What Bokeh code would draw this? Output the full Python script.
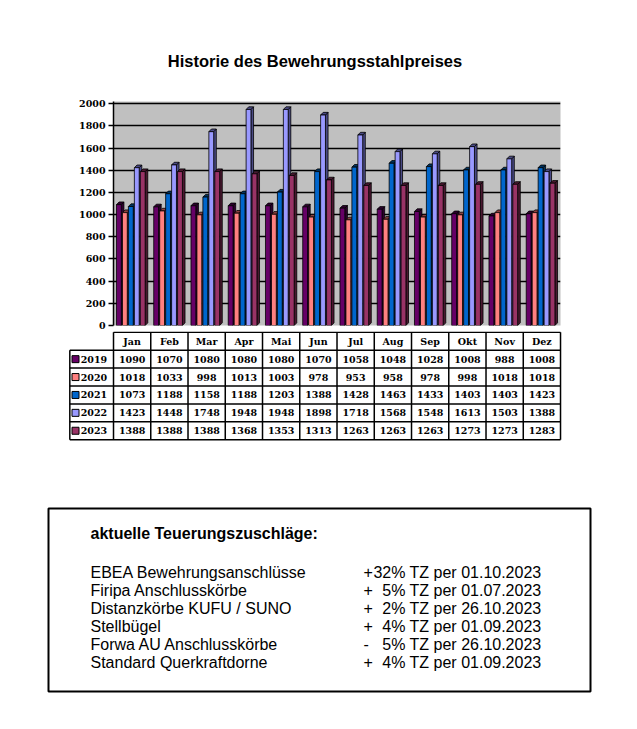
import numpy as np
from bokeh.plotting import figure
from bokeh.models import Range1d, FixedTicker
from bokeh.core.properties import value
from bokeh.embed import file_html
from bokeh.resources import INLINE

# ---------------- data ----------------
title_text = "Historie des Bewehrungsstahlpreises"
months = ["Jan", "Feb", "Mar", "Apr", "Mai", "Jun", "Jul", "Aug", "Sep", "Okt", "Nov", "Dez"]
years = ["2019", "2020", "2021", "2022", "2023"]
v2019 = [1090, 1070, 1080, 1080, 1080, 1070, 1058, 1048, 1028, 1008, 988, 1008]
v2020 = [1018, 1033, 998, 1013, 1003, 978, 953, 958, 978, 998, 1018, 1018]
v2021 = [1073, 1188, 1158, 1188, 1203, 1388, 1428, 1463, 1433, 1403, 1403, 1423]
v2022 = [1423, 1448, 1748, 1948, 1948, 1898, 1718, 1568, 1548, 1613, 1503, 1388]
v2023 = [1388, 1388, 1388, 1368, 1353, 1313, 1263, 1263, 1263, 1273, 1273, 1283]
y_ticks = [0, 200, 400, 600, 800, 1000, 1200, 1400, 1600, 1800, 2000]

box_heading = "aktuelle Teuerungszuschläge:"
products = ["EBEA Bewehrungsanschlüsse", "Firipa Anschlusskörbe", "Distanzkörbe KUFU / SUNO",
            "Stellbügel", "Forwa AU Anschlusskörbe", "Standard Querkraftdorne"]
signs = ["+", "+", "+", "+", "-", "+"]
percents = ["32%", "5%", "2%", "4%", "5%", "4%"]
dates = ["01.10.2023", "01.07.2023", "26.10.2023", "01.09.2023", "26.10.2023", "01.09.2023"]

series = [v2019, v2020, v2021, v2022, v2023]
colors = ["#660066", "#FF8080", "#0066CC", "#9999FF", "#993366"]
darks = ["#2E002E", "#8A4040", "#00335F", "#4A4A85", "#4A1830"]

SERIF = value("DejaVu Serif")
SANS = value("Liberation Sans")
TFS = "9.5px"
W = 637


def blank(height, xr, yr, **kw):
    f = figure(width=W, height=height, x_range=xr, y_range=yr,
               x_axis_location=None, y_axis_location=None, toolbar_location=None,
               output_backend="svg", min_border_left=kw.get("ml", 0),
               min_border_right=kw.get("mr", 0), min_border_top=0, min_border_bottom=0)
    f.outline_line_color = None
    f.grid.visible = False
    return f


# ---------------- title ----------------
p0 = blank(95, Range1d(0, W), Range1d(95, 0))
p0.text(x=[314.5], y=[60.5], text=[title_text], text_font=SANS, text_font_style="bold",
        text_font_size="16.5px", text_align="center", text_baseline="middle",
        text_color="black")

# ---------------- chart ----------------
p1 = figure(width=W, height=236, x_range=Range1d(0, 12), y_range=Range1d(0, 2020),
            x_axis_location=None, toolbar_location=None, output_backend="svg",
            min_border_left=113, min_border_right=77, min_border_top=6, min_border_bottom=6)
p1.background_fill_color = "#C0C0C0"
p1.border_fill_color = "white"
p1.outline_line_color = None
p1.xgrid.visible = False
p1.ygrid.grid_line_color = "black"
p1.ygrid.grid_line_width = 1.5
p1.yaxis.ticker = FixedTicker(ticks=y_ticks)
p1.yaxis.major_label_text_font = "DejaVu Serif"
p1.yaxis.major_label_text_font_style = "bold"
p1.yaxis.major_label_text_font_size = TFS
p1.yaxis.major_label_text_color = "black"
p1.yaxis.major_label_standoff = 3
p1.yaxis.major_tick_out = 5
p1.yaxis.major_tick_in = 0
p1.yaxis.minor_tick_out = 0
p1.yaxis.minor_tick_in = 0
p1.yaxis.axis_line_color = "black"
p1.yaxis.axis_line_width = 1.5
p1.yaxis.major_tick_line_color = "black"
p1.yaxis.major_tick_line_width = 1.5

pitch, fw, dx, dy, shift = 0.16, 0.13, 0.07, 24.0, -0.035
for k, vals in enumerate(series):
    xc = np.arange(len(months)) + 0.5 + (k - 2) * pitch + shift
    side_xs = [[x + fw / 2, x + fw / 2 + dx, x + fw / 2 + dx, x + fw / 2] for x in xc]
    side_ys = [[0, dy, v + dy, v] for v in vals]
    top_xs = [[x - fw / 2, x - fw / 2 + dx, x + fw / 2 + dx, x + fw / 2] for x in xc]
    top_ys = [[v, v + dy, v + dy, v] for v in vals]
    p1.patches(side_xs, side_ys, fill_color=darks[k], line_color="black", line_width=0.8)
    p1.patches(top_xs, top_ys, fill_color=darks[k], line_color="black", line_width=0.8)
    p1.vbar(x=xc, top=vals, bottom=0, width=fw, fill_color=colors[k],
            line_color="black", line_width=0.8)

# ---------------- data table ----------------
leg_left = -1.173
row_h = 17.9
top_off = 0.8
p2 = blank(110, Range1d(-1.262, 12.08), Range1d((110 - top_off) / row_h, -top_off / row_h),
           ml=66, mr=74)
n = len(months)
nr = len(years) + 1
hx0 = [0] + [leg_left] * nr
hx1 = [n] * (nr + 1)
hy = list(range(nr + 1))
p2.segment(x0=hx0, y0=hy, x1=hx1, y1=hy, line_color="black", line_width=1.5)
p2.segment(x0=list(range(n + 1)), y0=[0] * (n + 1), x1=list(range(n + 1)), y1=[nr] * (n + 1),
           line_color="black", line_width=1.5)
p2.segment(x0=[leg_left], y0=[1], x1=[leg_left], y1=[nr], line_color="black", line_width=1.5)

mx = np.arange(n) + 0.5
p2.text(x=mx, y=[0.5] * n, text=months, text_font=SERIF, text_font_style="bold",
        text_font_size=TFS, text_align="center", text_baseline="middle", text_color="black")
for k, vals in enumerate(series):
    p2.text(x=mx, y=[k + 1.5] * n, text=[str(v) for v in vals], text_font=SERIF,
            text_font_style="bold", text_font_size=TFS, text_align="center",
            text_baseline="middle", text_color="black")
ly = [k + 1.5 for k in range(len(years))]
p2.scatter(x=[-1.02] * len(years), y=ly, marker="square", size=7, fill_color=colors,
           line_color="black", line_width=1)
p2.text(x=[-0.88] * len(years), y=ly, text=years, text_font=SERIF, text_font_style="bold",
        text_font_size=TFS, text_align="left", text_baseline="middle", text_color="black")

# ---------------- surcharge box ----------------
p3 = blank(280, Range1d(0, W), Range1d(280, 0))
p3.quad(left=[48], right=[590], top=[67], bottom=[250], fill_color=None,
        line_color="black", line_width=2)
p3.text(x=[90], y=[92.3], text=[box_heading], text_font=SANS,
        text_font_style="bold", text_font_size="16px", text_baseline="middle",
        text_color="black")
iy = [130.7 + 18 * i for i in range(len(products))]
p3.text(x=[90] * len(products), y=iy, text=products, text_font=SANS, text_font_size="16px",
        text_baseline="middle", text_color="black")
p3.text(x=[363] * len(products), y=iy, text=signs, text_font=SANS, text_font_size="16px",
        text_baseline="middle", text_color="black")
p3.text(x=[541] * len(products), y=iy,
        text=[f"{pc} TZ per {d}" for pc, d in zip(percents, dates)], text_font=SANS,
        text_font_size="16px", text_align="right", text_baseline="middle", text_color="black")

open("out.html", "w").write(file_html([p0, p1, p2, p3], INLINE))
